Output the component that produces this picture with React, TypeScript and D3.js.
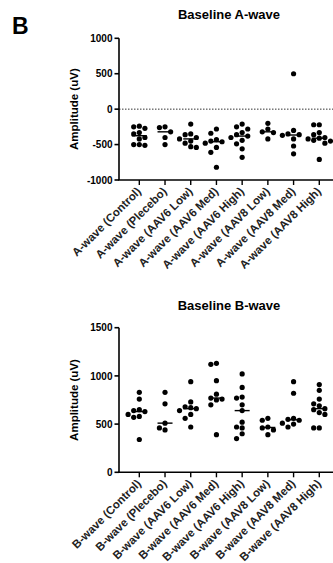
import { useMemo } from 'react';
import { scaleLinear, scalePoint, median } from 'd3';

// ---- A-wave data (uV)
const aCategories = [
  'A-wave (Control)',
  'A-wave (Plecebo)',
  'A-wave (AAV6 Low)',
  'A-wave (AAV6 Med)',
  'A-wave (AAV6 High)',
  'A-wave (AAV8 Low)',
  'A-wave (AAV8 Med)',
  'A-wave (AAV8 High)',
];
const aControl = [-240, -250, -270, -330, -350, -400, -420, -500, -500, -510];
const aPlacebo = [-250, -260, -320, -400, -500];
const aAav6Low = [-210, -350, -360, -400, -420, -450, -480, -530, -540];
const aAav6Med = [-280, -340, -430, -450, -460, -480, -540, -610, -820];
const aAav6High = [-210, -250, -280, -330, -360, -380, -400, -440, -490, -560, -680];
const aAav8Low = [-200, -280, -320, -330, -420];
const aAav8Med = [500, -300, -350, -360, -370, -420, -520, -630];
const aAav8High = [-220, -220, -330, -360, -400, -410, -420, -440, -450, -480, -710];
const aTicks = [1000, 500, 0, -500, -1000];

// ---- B-wave data (uV)
const bCategories = [
  'B-wave (Control)',
  'B-wave (Plecebo)',
  'B-wave (AAV6 Low)',
  'B-wave (AAV6 Med)',
  'B-wave (AAV6 High)',
  'B-wave (AAV8 Low)',
  'B-wave (AAV8 Med)',
  'B-wave (AAV8 High)',
];
const bControl = [830, 760, 650, 640, 630, 600, 580, 570, 340];
const bPlacebo = [830, 710, 510, 460, 440];
const bAav6Low = [940, 730, 680, 670, 660, 640, 600, 560, 470];
const bAav6Med = [1130, 1120, 950, 810, 770, 760, 750, 700, 390];
const bAav6High = [1020, 880, 780, 770, 700, 640, 520, 470, 460, 400, 350];
const bAav8Low = [560, 540, 470, 460, 440, 390];
const bAav8Med = [940, 820, 560, 550, 540, 510, 500, 470];
const bAav8High = [910, 850, 760, 710, 690, 660, 650, 620, 600, 460, 460];
const bTicks = [0, 500, 1000, 1500];

const FONT = 'Liberation Sans, Arial, sans-serif';
const R = 2.6;

interface PanelProps {
  title: string;
  titleY: number;
  categories: string[];
  series: number[][];
  ticks: number[];
  domain: [number, number];
  top: number;
  bottom: number;
  zeroLine?: boolean;
}

// simple GraphPad-like scatter spreading
const swarm = (ys: number[]) => {
  const order = ys.map((y, i) => ({ y, i })).sort((a, b) => a.y - b.y);
  const placed: { x: number; y: number }[] = [];
  const out: number[] = new Array(ys.length).fill(0);
  const step = 2 * R + 0.4;
  order.forEach(({ y, i }) => {
    for (let k = 0; k < 10; k++) {
      const cands = k === 0 ? [0] : [-k * step, k * step];
      const ok = cands.find((c) =>
        placed.every((p) => Math.hypot(p.x - c, p.y - y) >= 2 * R + 0.2),
      );
      if (ok !== undefined) {
        placed.push({ x: ok, y });
        out[i] = ok;
        return;
      }
    }
  });
  return out;
};

const Panel = (props: PanelProps) => {
  const axisX = 119;
  const x = useMemo(
    () => scalePoint<string>().domain(props.categories).range([axisX, 339.6]).padding(0.79),
    [props.categories],
  );
  const y = useMemo(
    () => scaleLinear().domain(props.domain).range([props.bottom, props.top]),
    [props.domain, props.top, props.bottom],
  );

  return (
    <g fontFamily={FONT} fill="#000">
      <text x={229} y={props.titleY} textAnchor="middle" fontSize={13} fontWeight="bold">
        {props.title}
      </text>
      <text
        transform={`translate(78,${(props.top + props.bottom) / 2}) rotate(-90)`}
        textAnchor="middle"
        fontSize={11.5}
        fontWeight="bold"
      >
        Amplitude (uV)
      </text>

      {props.zeroLine && (
        <line
          x1={axisX}
          x2={340}
          y1={y(0)}
          y2={y(0)}
          stroke="#333"
          strokeWidth={1}
          strokeDasharray="1.5,1.5"
        />
      )}

      {/* y axis */}
      <line x1={axisX} x2={axisX} y1={props.top} y2={props.bottom} stroke="#000" strokeWidth={1.6} />
      {props.ticks.map((t) => (
        <g key={t}>
          <line x1={axisX - 4.5} x2={axisX} y1={y(t)} y2={y(t)} stroke="#000" strokeWidth={1.6} />
          <text x={axisX - 6.5} y={y(t)} dy="0.36em" textAnchor="end" fontSize={10} fontWeight="bold">
            {t}
          </text>
        </g>
      ))}

      {/* x axis */}
      <line x1={axisX - 0.8} x2={340} y1={props.bottom} y2={props.bottom} stroke="#000" strokeWidth={1.6} />
      {props.categories.map((c) => (
        <g key={c}>
          <line
            x1={x(c)}
            x2={x(c)}
            y1={props.bottom}
            y2={props.bottom + 5}
            stroke="#000"
            strokeWidth={1.4}
          />
          <text
            transform={`translate(${(x(c) as number) + 2.5},${props.bottom + 12}) rotate(-45)`}
            textAnchor="end"
            fontSize={11.5}
            fontWeight="bold"
            fill="#222"
          >
            {c}
          </text>
        </g>
      ))}

      {/* points + medians */}
      {props.series.map((vals, gi) => {
        const cx = x(props.categories[gi]) as number;
        const ys = vals.map((v) => y(v));
        const offs = swarm(ys);
        const med = median(vals) as number;
        return (
          <g key={gi}>
            {ys.map((py, i) => (
              <circle key={i} cx={cx + offs[i]} cy={py} r={R} fill="#000" />
            ))}
            <line
              x1={cx - 7.5}
              x2={cx + 7.5}
              y1={y(med)}
              y2={y(med)}
              stroke="#000"
              strokeWidth={1.4}
            />
          </g>
        );
      })}
    </g>
  );
};

const App = () => {
  return (
    <svg
      width={333}
      height={563}
      style={{ position: 'absolute', left: 0, top: 0, background: '#fff' }}
    >
      <text x={12} y={34} fontFamily={FONT} fontSize={23} fontWeight="bold">
        B
      </text>
      <Panel
        title="Baseline A-wave"
        titleY={19}
        categories={aCategories}
        series={[aControl, aPlacebo, aAav6Low, aAav6Med, aAav6High, aAav8Low, aAav8Med, aAav8High]}
        ticks={aTicks}
        domain={[-1000, 1000]}
        top={38.3}
        bottom={180}
        zeroLine
      />
      <Panel
        title="Baseline B-wave"
        titleY={310}
        categories={bCategories}
        series={[bControl, bPlacebo, bAav6Low, bAav6Med, bAav6High, bAav8Low, bAav8Med, bAav8High]}
        ticks={bTicks}
        domain={[0, 1500]}
        top={327.7}
        bottom={472.3}
      />
    </svg>
  );
};

export default App;
